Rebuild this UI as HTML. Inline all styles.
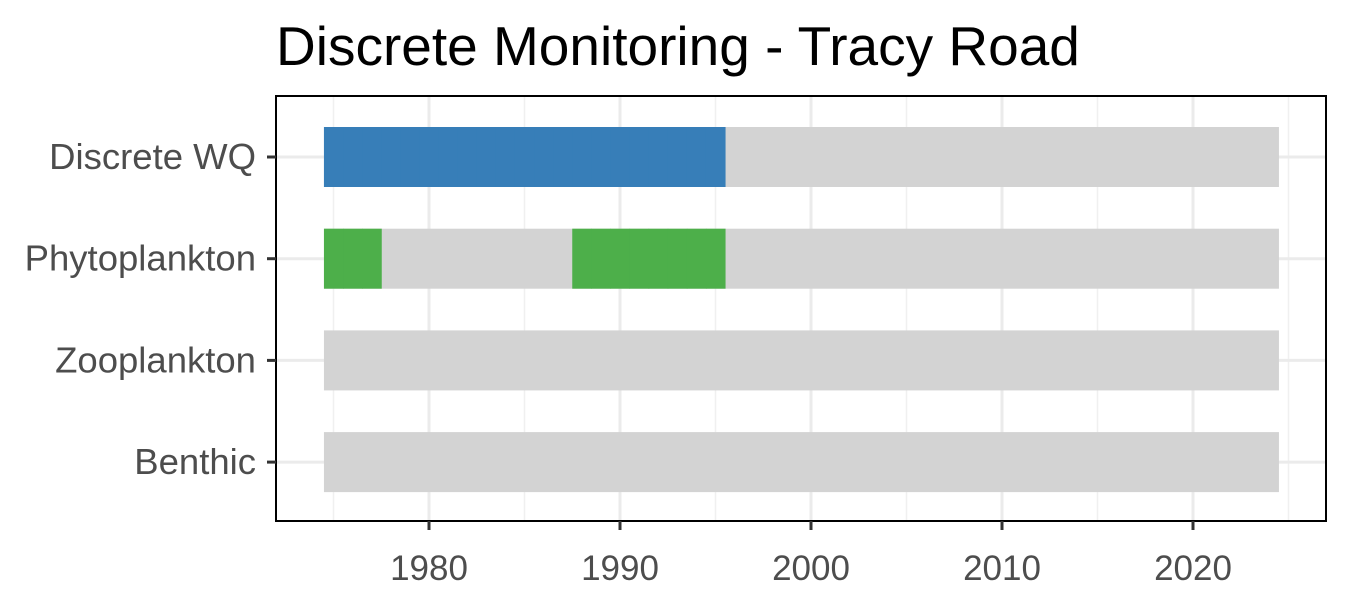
<!DOCTYPE html>
<html><head><meta charset="utf-8"><style>
body{margin:0;background:#fff;}
svg{display:block;font-family:"Liberation Sans",Arial,sans-serif;}
</style></head><body>
<svg id="chart" width="1350" height="600">
<text x="276" y="65" font-size="55" fill="#000">Discrete Monitoring - Tracy Road</text>
<g id="grid"></g>
<g id="bars"></g>
<rect x="276" y="96" width="1050" height="425" fill="none" stroke="#000" stroke-width="2"/>
<g id="axes"></g>
</svg>
<script>
const categories=["Discrete WQ","Phytoplankton","Zooplankton","Benthic"];
const yearStart=1975, yearEnd=2024;
const sampledYears={
 "Discrete WQ":[1975,1976,1977,1978,1979,1980,1981,1982,1983,1984,1985,1986,1987,1988,1989,1990,1991,1992,1993,1994,1995],
 "Phytoplankton":[1975,1976,1977,1988,1989,1990,1991,1992,1993,1994,1995],
 "Zooplankton":[],
 "Benthic":[]
};
const colors={"Discrete WQ":"#377eb8","Phytoplankton":"#4daf4a","Zooplankton":"#4daf4a","Benthic":"#4daf4a"};
const xTicks=[1980,1990,2000,2010,2020];
const xMinor=[1975,1985,1995,2005,2015,2025];
const NS="http://www.w3.org/2000/svg";
const x=v=>429+(v-1980)*19.1;
const y=i=>157+i*101.7;
const bh=60;
function mk(t,a,p){const e=document.createElementNS(NS,t);for(const k in a)e.setAttribute(k,a[k]);p.appendChild(e);return e;}
const grid=document.getElementById('grid'),bars=document.getElementById('bars'),axes=document.getElementById('axes');
xMinor.forEach(v=>{const l=mk('line',{x1:x(v),x2:x(v),y1:96,y2:521,stroke:'#f0f0f0','stroke-width':1.5},grid);

});
xTicks.forEach(v=>{const l=mk('line',{x1:x(v),x2:x(v),y1:96,y2:521,stroke:'#ebebeb','stroke-width':3},grid);


mk('line',{x1:x(v),x2:x(v),y1:521,y2:530,stroke:'#333','stroke-width':3},axes);
const t=mk('text',{x:x(v),y:580,'font-size':35,fill:'#4d4d4d','text-anchor':'middle'},axes);t.textContent=v;

});
categories.forEach((c,i)=>{const l=mk('line',{x1:276,x2:1326,y1:y(i),y2:y(i),stroke:'#ebebeb','stroke-width':3},grid);


const bg=mk('rect',{x:x(yearStart-0.5),y:y(i)-bh/2,width:x(yearEnd+0.5)-x(yearStart-0.5),height:bh,fill:'#d3d3d3'},bars);


sampledYears[c].forEach(yr=>{const r=mk('rect',{x:x(yr-0.5),y:y(i)-bh/2,width:x(yr+0.5)-x(yr-0.5)+0.5,height:bh,fill:colors[c]},bars);

});
mk('line',{x1:267,x2:276,y1:y(i),y2:y(i),stroke:'#333','stroke-width':3},axes);
const t=mk('text',{x:256,y:y(i)+12,'font-size':36.5,fill:'#4d4d4d','text-anchor':'end'},axes);t.textContent=c;

});
</script>
</body></html>
